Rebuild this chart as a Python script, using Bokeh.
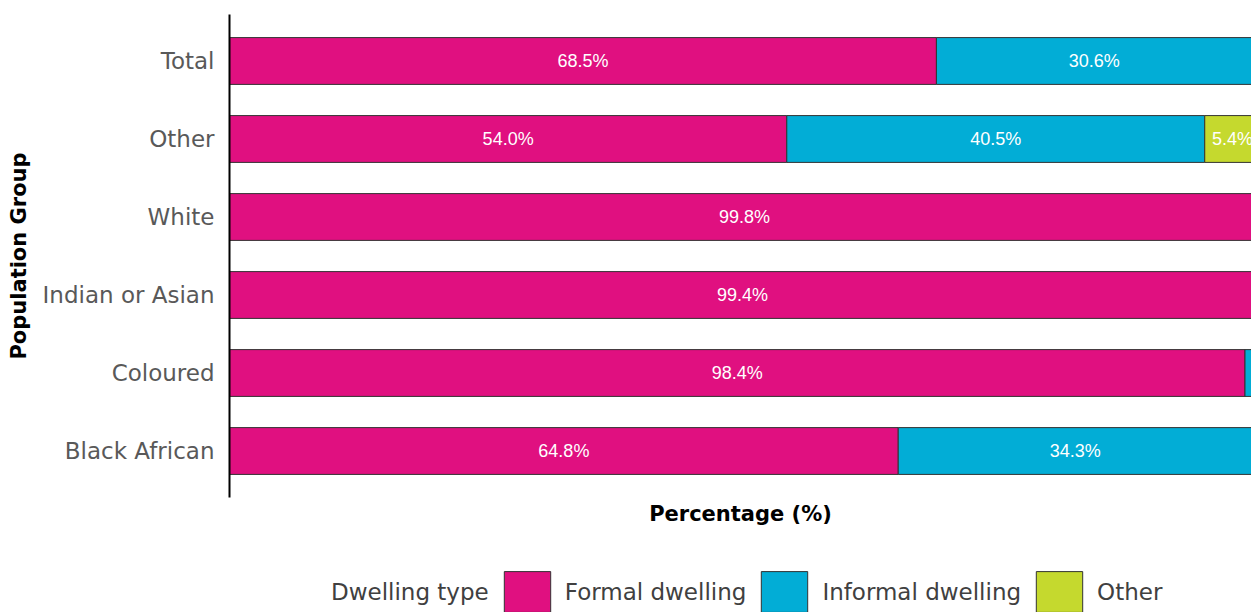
from bokeh.plotting import figure
from bokeh.layouts import column
from bokeh.models import (FactorRange, Range1d, ColumnDataSource, Legend, LegendItem,
                          FixedTicker)
from bokeh.core.properties import value
from bokeh.embed import file_html
from bokeh.resources import INLINE

groups = ["Black African", "Coloured", "Indian or Asian", "White", "Other", "Total"]
formal = [64.8, 98.4, 99.4, 99.8, 54.0, 68.5]
informal = [34.3, 1.4, 0.5, 0.1, 40.5, 30.6]
other = [0.9, 0.2, 0.1, 0.1, 5.4, 0.9]
series = ["Formal dwelling", "Informal dwelling", "Other"]
legend_title = "Dwelling type"
colors = ["#E01080", "#02ADD6", "#C5D92E"]

FONT = "DejaVu Sans"
NAN = float("nan")

src = ColumnDataSource(dict(group=groups, f=formal, i=informal, o=other))

p = figure(width=1251, height=555, output_backend="svg", toolbar_location=None,
           y_range=FactorRange(factors=groups, range_padding=0.032),
           x_range=Range1d(0, 99.03),
           min_border_left=229, min_border_right=0, min_border_top=14, min_border_bottom=58)
p.outline_line_color = None
p.grid.visible = False

p.hbar_stack(["f", "i", "o"], y="group", height=0.6, color=colors, source=src,
             line_color="#333333", line_width=1)

# value labels
lx, ly, lt = [], [], []
for k, g in enumerate(groups):
    start = 0.0
    for v in (formal[k], informal[k], other[k]):
        if v >= 5:
            lx.append(start + v / 2)
            ly.append(g)
            lt.append(f"{v:.1f}%")
        start += v
p.text(x=lx, y=ly, text=lt, text_color="white", text_align="center", text_baseline="middle",
       text_font=value("Liberation Sans"), text_font_size="18px")

# axes
p.yaxis.axis_line_color = "black"
p.yaxis.axis_line_width = 2
p.yaxis.major_tick_line_color = None
p.yaxis.minor_tick_line_color = None
p.yaxis.major_label_standoff = 9
p.yaxis.major_label_text_font = FONT
p.yaxis.major_label_text_font_size = "23px"
p.yaxis.major_label_text_color = "#595959"
p.yaxis.axis_label = "Population Group"
p.yaxis.axis_label_text_font = FONT
p.yaxis.axis_label_text_font_style = "bold"
p.yaxis.axis_label_text_font_size = "21px"
p.yaxis.axis_label_text_color = "black"
p.yaxis.axis_label_standoff = 9

p.xaxis.ticker = FixedTicker(ticks=[])
p.xaxis.axis_line_color = None
p.xaxis.major_tick_line_color = None
p.xaxis.minor_tick_line_color = None
p.xaxis.major_tick_out = 0
p.xaxis.minor_tick_out = 0
p.xaxis.major_label_standoff = 0
p.xaxis.axis_label = "Percentage (%)"
p.xaxis.axis_label_text_font = FONT
p.xaxis.axis_label_text_font_style = "bold"
p.xaxis.axis_label_text_font_size = "21px"
p.xaxis.axis_label_text_color = "black"
p.xaxis.axis_label_standoff = 4

# legend strip (placeholder renderers carry only the legend swatch styles)
lg = figure(width=1251, height=57, output_backend="svg", toolbar_location=None,
            x_range=Range1d(0, 1), y_range=Range1d(0, 1),
            x_axis_type=None, y_axis_type=None,
            min_border_left=0, min_border_right=0, min_border_top=0, min_border_bottom=0)
lg.outline_line_color = None
lg.grid.visible = False
blank = lg.hbar(y=[NAN], left=[NAN], right=[NAN], height=1, fill_alpha=0, line_alpha=0)
swatches = [lg.hbar(y=[NAN], left=[NAN], right=[NAN], height=1, fill_color=c,
                    line_color="#333333", line_width=1) for c in colors]
items = [LegendItem(label=legend_title, renderers=[blank])]
items += [LegendItem(label=s, renderers=[r]) for s, r in zip(series, swatches)]
legend = Legend(items=items, orientation="horizontal", location=(35, -5),
                label_text_font=FONT, label_text_font_size="23px",
                label_text_color="#404040",
                glyph_width=58, glyph_height=51, label_standoff=9, spacing=9,
                padding=0, margin=0, border_line_color=None, background_fill_alpha=0)
lg.add_layout(legend, "center")

layout = column(p, lg, spacing=0)
open("out.html", "w").write(file_html(layout, INLINE))
